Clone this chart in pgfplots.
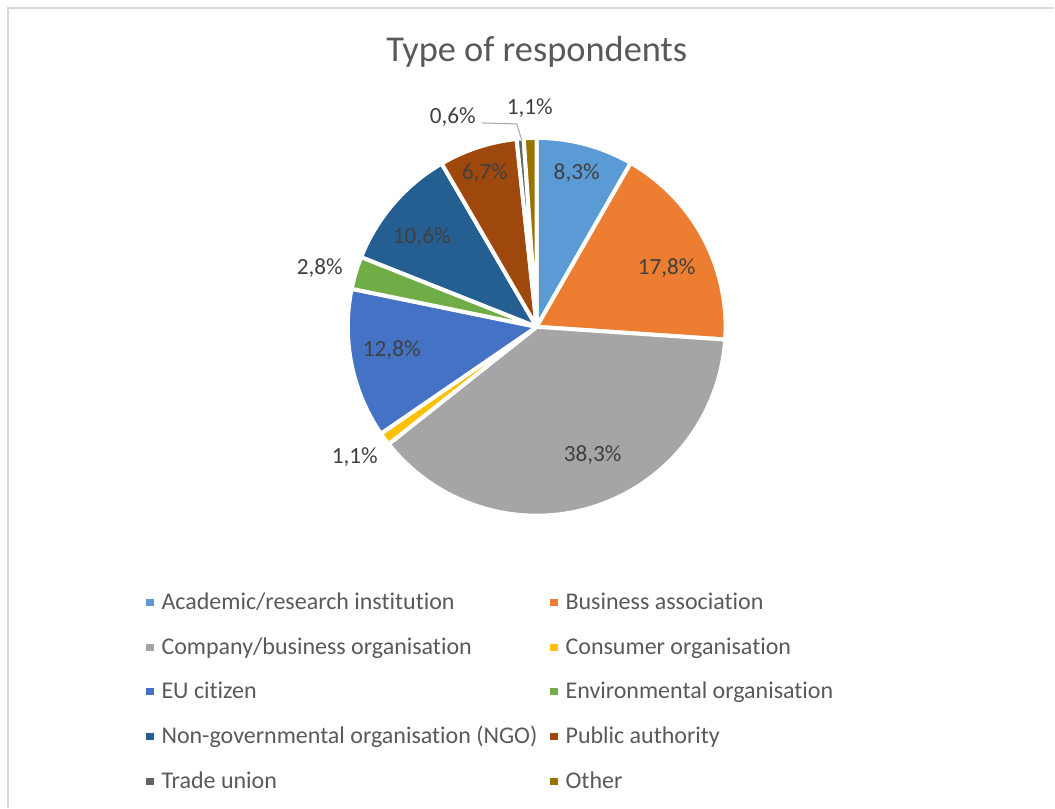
\documentclass[border=0pt]{standalone}
\usepackage{fontspec}
\setmainfont{Carlito}[Ligatures=NoCommon]
\usepackage{pgfplots}
\pgfplotsset{compat=1.18}
\definecolor{cA}{HTML}{5B9BD5}
\definecolor{cB}{HTML}{ED7D31}
\definecolor{cC}{HTML}{A5A5A5}
\definecolor{cD}{HTML}{FFC000}
\definecolor{cE}{HTML}{4472C4}
\definecolor{cF}{HTML}{70AD47}
\definecolor{cG}{HTML}{255E91}
\definecolor{cH}{HTML}{9E480E}
\definecolor{cI}{HTML}{636363}
\definecolor{cJ}{HTML}{997300}
\definecolor{txt}{HTML}{595959}
\definecolor{lab}{HTML}{404040}
\definecolor{frame}{HTML}{D9D9D9}
% slice: start (cumulative %), value (%), colour
\newcommand{\slice}[3]{%
  \addplot[fill=#3, draw=white, line width=2pt, line join=round,
    domain=#1:#1+#2, samples=90, variable=\t]
    ({537+189*sin(360*\t/100.1)}, {481+189*cos(360*\t/100.1)})
    -- (axis cs:537,481) -- cycle;}
\begin{document}
\begin{tikzpicture}
\begin{axis}[
  width=527.5pt, height=404pt, scale only axis,
  xmin=0, xmax=1055, ymin=0, ymax=808,
  hide axis, clip=false,
  legend columns=2,
  legend cell align=left,
  legend image code/.code={\fill[#1,draw=none] (0pt,-1.8pt) rectangle (3.6pt,1.8pt); \path (4.6pt,0pt);},
  legend style={at={(axis cs:140,223)}, anchor=north west, draw=none, fill=none,
    font=\fontsize{12}{14}\selectfont, text=txt, row sep=8.4pt,
    /tikz/every even column/.append style={column sep=4.5pt}},
]
\path (axis cs:0,0) rectangle (axis cs:1055,808);
\draw[frame, line width=0.6pt] (axis cs:8,0) -- (axis cs:8,800) -- (axis cs:1055,800);
% values (%): 8.3, 17.8, 38.3, 1.1, 12.8, 2.8, 10.6, 6.7, 0.6, 1.1
\slice{0}{8.3}{cA}    \addlegendentry{Academic/research institution}
\slice{8.3}{17.8}{cB} \addlegendentry{Business association}
\slice{26.1}{38.3}{cC}\addlegendentry{Company/business organisation}
\slice{64.4}{1.1}{cD} \addlegendentry{Consumer organisation}
\slice{65.5}{12.8}{cE}\addlegendentry{EU citizen}
\slice{78.3}{2.8}{cF} \addlegendentry{Environmental organisation}
\slice{81.1}{10.6}{cG}\addlegendentry{Non-governmental organisation (NGO)}
\slice{91.7}{6.7}{cH} \addlegendentry{Public authority}
\slice{98.4}{0.6}{cI} \addlegendentry{Trade union}
\slice{99.0}{1.1}{cJ} \addlegendentry{Other}
% title
\node[anchor=base, text=txt, font=\fontsize{18.2}{22}\selectfont] at (axis cs:537,746) {Type of respondents};
% data labels
\begin{scope}[every node/.style={anchor=base, text=lab, font=\fontsize{11.6}{14}\selectfont}]
\node at (axis cs:577,628) {8,3\%};
\node at (axis cs:667,533) {17,8\%};
\node at (axis cs:593,346) {38,3\%};
\node at (axis cs:355,344) {1,1\%};
\node at (axis cs:392,451) {12,8\%};
\node at (axis cs:320,533) {2,8\%};
\node at (axis cs:422,564) {10,6\%};
\node at (axis cs:485,628) {6,7\%};
\node at (axis cs:453,684) {0,6\%};
\node at (axis cs:530,693) {1,1\%};
\end{scope}
\draw[color=cC, line width=0.5pt] (axis cs:482,685) -- (axis cs:517,684) -- (axis cs:522,668);
\end{axis}
\end{tikzpicture}
\end{document}
